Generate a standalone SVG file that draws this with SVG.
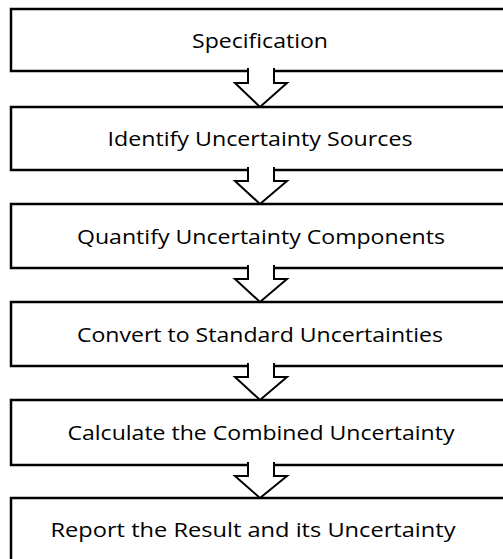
<svg xmlns="http://www.w3.org/2000/svg" width="503" height="559" viewBox="0 0 503 559">
  <style>
    .box { fill: #ffffff; stroke: #000000; stroke-width: 2.5; }
    .arrow { fill: #ffffff; stroke: #000000; stroke-width: 2; stroke-linejoin: miter; }
    .label { font-family: "Open Sans", "Liberation Sans", sans-serif; font-size: 20.5px; fill: #000000; text-anchor: middle; }
  </style>
  <rect width="503" height="559" fill="#ffffff"/>

  <g id="step-specification">
    <rect class="box" x="11" y="9" width="520" height="62"/>
    <text class="label" x="260" y="48" textLength="136" lengthAdjust="spacingAndGlyphs">Specification</text>
  </g>
  <g id="step-identify">
    <rect class="box" x="11" y="107" width="520" height="63"/>
    <text class="label" x="260" y="146" textLength="305" lengthAdjust="spacingAndGlyphs">Identify Uncertainty Sources</text>
  </g>
  <g id="step-quantify">
    <rect class="box" x="11" y="204" width="520" height="64"/>
    <text class="label" x="261" y="244" textLength="368" lengthAdjust="spacingAndGlyphs">Quantify Uncertainty Components</text>
  </g>
  <g id="step-convert">
    <rect class="box" x="11" y="302" width="520" height="64"/>
    <text class="label" x="260" y="342" textLength="366" lengthAdjust="spacingAndGlyphs">Convert to Standard Uncertainties</text>
  </g>
  <g id="step-combine">
    <rect class="box" x="11" y="400" width="520" height="65"/>
    <text class="label" x="261" y="440" textLength="387" lengthAdjust="spacingAndGlyphs">Calculate the Combined Uncertainty</text>
  </g>
  <g id="step-report">
    <rect class="box" x="11" y="498" width="520" height="80"/>
    <text class="label" x="253" y="537" textLength="405" lengthAdjust="spacingAndGlyphs">Report the Result and its Uncertainty</text>
  </g>

  <!-- block arrows: open at the top so they merge into the box above -->
  <g id="connectors">
    <path class="arrow" d="M248,68 V83 H235 L260,107 L287,83 H274 V68"/>
    <path class="arrow" d="M248,167 V181 H235 L260,204 L287,181 H274 V167"/>
    <path class="arrow" d="M248,265 V279 H235 L260,302 L287,279 H274 V265"/>
    <path class="arrow" d="M248,363 V377 H235 L260,400 L287,377 H274 V363"/>
    <path class="arrow" d="M248,462 V476 H235 L260,498 L287,476 H274 V462"/>
  </g>
</svg>
